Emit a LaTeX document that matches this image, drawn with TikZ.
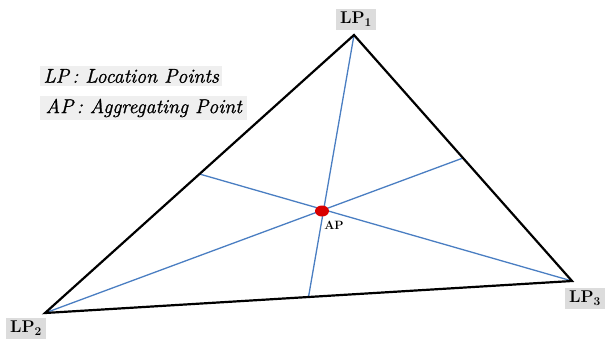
\documentclass[tikz,border=0pt]{standalone}
\usepackage{fontspec}
\setmainfont{Latin Modern Roman}
\newfontfamily\legendfont{Latin Modern Roman}[ItalicFeatures={FakeBold=1.2}]
\usetikzlibrary{shapes.geometric,calc}
\definecolor{medblue}{HTML}{4A7EC2}
\definecolor{lpgrey}{HTML}{DCDCDC}
\definecolor{lggrey}{HTML}{EFEFEF}
\tikzset{
  side/.style={black, line width=2.2pt, line join=miter},
  median/.style={medblue, line width=1.3pt},
  lpbox/.style={fill=lpgrey, inner xsep=4pt, inner ysep=3pt, font=\fontsize{17}{19}\selectfont\bfseries, text height=12pt, text depth=3pt},
  legendbox/.style={fill=lggrey, anchor=west, inner xsep=2pt, inner ysep=3pt, font=\legendfont\itshape\fontsize{20}{22}\selectfont},
}
\begin{document}
\begin{tikzpicture}[x=1pt,y=-1pt]
\useasboundingbox (0,0) rectangle (605,338);
\coordinate (A) at (354,35);
\coordinate (B) at (45,313);
\coordinate (C) at (572,281);
\coordinate (mBC) at ($(B)!0.5!(C)$);
\coordinate (mAC) at ($(A)!0.5!(C)$);
\coordinate (mAB) at ($(A)!0.5!(B)$);
\draw[median] (A) -- (mBC);
\draw[median] (B) -- (mAC);
\draw[median] (C) -- (mAB);
\draw[side] (A) -- (B) -- (C) -- cycle;
\node[ellipse, fill=red!85!black, minimum width=14pt, minimum height=11pt, inner sep=0pt] (ap) at (322,211) {};
\node[font=\fontsize{12}{14}\selectfont\bfseries] (aplabel) at (334,225) {AP};
\node[lpbox] (lp1) at (356,19) {LP\textsubscript{1}};
\node[lpbox] (lp2) at (26,328) {LP\textsubscript{2}};
\node[lpbox] (lp3) at (585,298) {LP\textsubscript{3}};
\node[legendbox, minimum width=182pt] (l1) at (40,76) {LP\,: Location Points};
\node[legendbox, minimum width=207pt] (l2) at (40,108) {AP\,: Aggregating Point};
\end{tikzpicture}
\end{document}
